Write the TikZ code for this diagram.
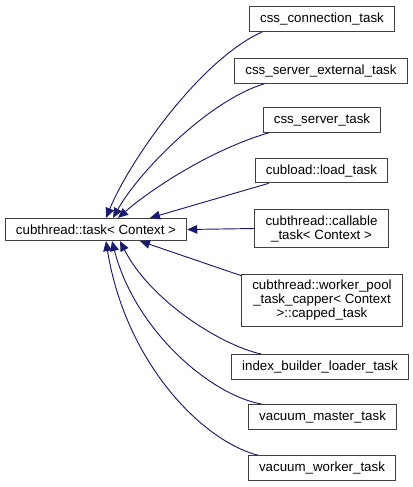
\documentclass[tikz,border=0pt]{standalone}
\usepackage{fontspec}
\setsansfont{Liberation Sans}
\usepackage{xcolor}
\usepackage{tikz}
\usetikzlibrary{arrows.meta}
\usetikzlibrary{positioning}
\definecolor{edgeblue}{HTML}{191970}
\definecolor{boxline}{HTML}{404040}

\begin{document}
\begin{tikzpicture}[
  x=0.75pt,y=-0.75pt,
  cls/.style={draw=boxline,line width=0.8pt,fill=white,align=center,
    font=\sffamily\fontsize{10}{10.5}\selectfont,inner xsep=8pt,inner ysep=4.6pt},
  inh/.style={draw=edgeblue,line width=0.7pt,
    {Triangle[length=7.5pt,width=6.5pt,fill=edgeblue]}-}]
\useasboundingbox (0,0) rectangle (413,487);
\node[cls] (base) at (96,229.5) {cubthread::task< Context >};
\node[cls] (cc) at (322,19) {css\_connection\_task};
\node[cls] (sext) at (321,71) {css\_server\_external\_task};
\node[cls] (sst) at (322,120) {css\_server\_task};
\node[cls] (cubload) at (321.5,170.5) {cubload::load\_task};
\node[cls] (callable) at (321.5,228.5) {cubthread::callable\\\_task< Context >};
\node[cls] (capped) at (322,300.5) {cubthread::worker\_pool\\\_task\_capper< Context\\>::capped\_task};
\node[cls] (ibl) at (320,367) {index\_builder\_loader\_task};
\node[cls] (vmaster) at (322.6,417) {vacuum\_master\_task};
\node[cls] (vworker) at (322,468) {vacuum\_worker\_task};
% upper children
\draw[inh] ([xshift=7.5pt]base.north) .. controls (130,160) and (200,60) .. ([xshift=10pt]cc.south west);
\draw[inh] ([xshift=12.75pt]base.north) .. controls (140,170) and (210,100) .. ([xshift=22.5pt]sext.south west);
\draw[inh] ([xshift=16.5pt]base.north) .. controls (150,190) and (210,150) .. ([xshift=4.5pt]sst.south west);
\draw[inh] ([xshift=40.5pt]base.north) -- ([xshift=10.5pt]cubload.south west);
\draw[inh] (base.east) -- (callable.west);
% lower children
\draw[inh] ([xshift=33pt]base.south) -- ([yshift=-1.5pt]capped.north west);
\draw[inh] ([xshift=18pt]base.south) .. controls (150,300) and (220,345) .. ([xshift=23pt]ibl.north west);
\draw[inh] ([xshift=12pt]base.south) .. controls (135,330) and (210,395) .. ([xshift=10.5pt]vmaster.north west);
\draw[inh] ([xshift=7.5pt]base.south) .. controls (125,360) and (200,440) .. ([xshift=7.5pt]vworker.north west);
\end{tikzpicture}
\end{document}
